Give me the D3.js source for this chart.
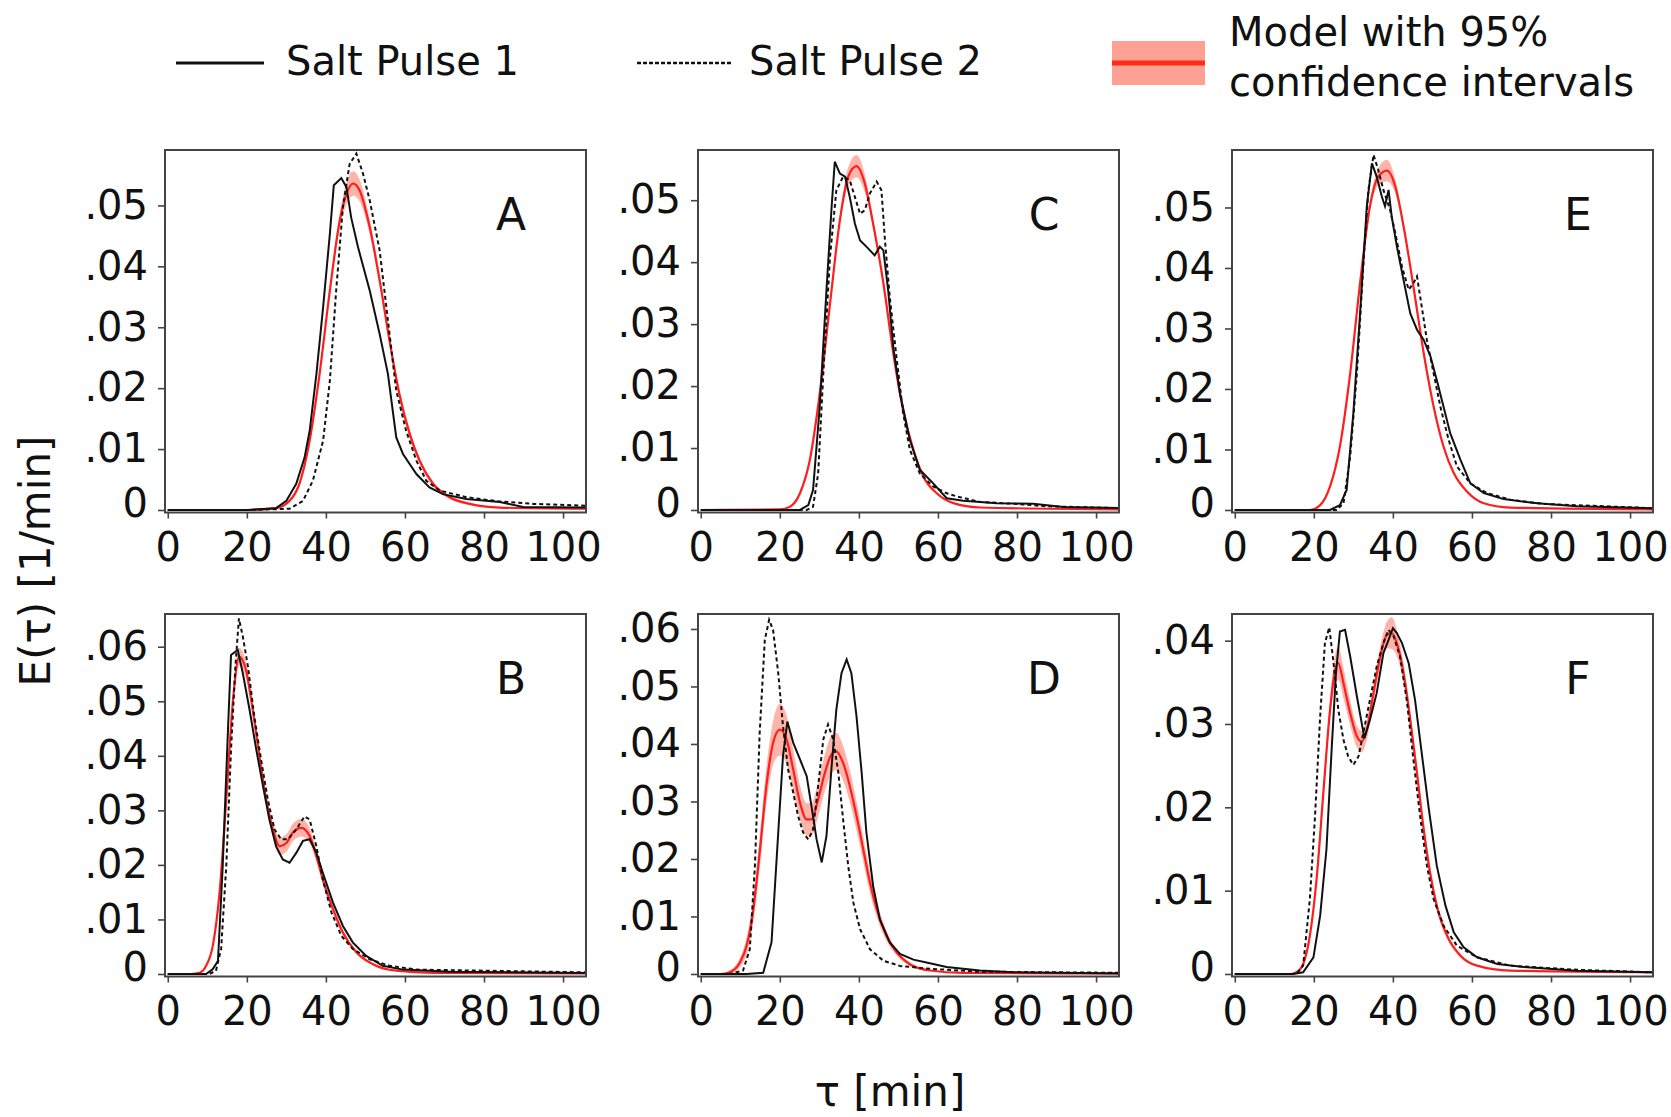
<!DOCTYPE html>
<html><head><meta charset="utf-8">
<script src="https://cdn.jsdelivr.net/npm/d3@7"></script>
<style>body{margin:0;background:#fff;}svg{display:block;}</style>
</head><body>
<svg id="chart" width="1671" height="1117"></svg>
<script>
// ---------- DATA ----------
const xTicks = [0, 20, 40, 60, 80, 100];
const panelLetters = ["A", "B", "C", "D", "E", "F"];
const yTickMax = [0.05, 0.06, 0.05, 0.06, 0.05, 0.04];
const legendLabels = ["Salt Pulse 1", "Salt Pulse 2", "Model with 95%", "confidence intervals"];

// Panel A
const tA1 = [0,20,27.4,30,32.5,34.6,35.9,37.6,39.3,41,42,43.9,45.2,46.4,48.1,51.1,53.6,55.7,57.8,59.5,62.9,66.2,69.6,75.5,84,89.9,105.8];
const eA1 = [0,0,.0003,.0015,.0043,.0086,.013,.0223,.0333,.0453,.0533,.0545,.053,.048,.0432,.036,.0289,.0223,.0119,.0092,.0059,.0037,.0026,.0018,.0013,.0005,.0004];
const tA2 = [0,20,30.8,34.2,36.7,39.3,41,42.6,44.3,46,47.7,49.4,51.1,53.6,56.1,57.8,60.3,62.9,65.4,68.8,75.5,84,92.4,105.8];
const eA2 = [0,0,.0002,.0015,.0048,.0114,.0212,.036,.0497,.0568,.0585,.0552,.0508,.0426,.0289,.0196,.013,.0081,.0048,.0032,.0021,.0014,.001,.0007];
const tAm = [0,20,27.4,30.8,33.3,35.9,38.4,41,43.5,45.2,46.9,48.5,51.1,53.6,56.1,58.6,61.2,63.7,67.1,71.3,76.4,84,105.8];
const eAm = [0,0,.0003,.0015,.0043,.0114,.0223,.036,.0475,.0519,.0536,.0525,.0464,.0377,.0278,.019,.0125,.0081,.0043,.0021,.001,.0004,.0002];
const cAm = [0,0,.0001,.0003,.0004,.0006,.0007,.0008,.0012,.0018,.002,.0018,.0012,.0009,.0008,.0008,.0007,.0006,.0004,.0003,.0002,.0001,.0001];

// Panel B
const tB1 = [0,9.7,11.4,12.7,13.9,15.2,16,17.7,19,20.7,22.4,24.1,25.7,27.4,29.1,30.8,32.5,34.2,35.9,37.6,39.2,41.8,44.3,46.8,50.2,54.4,59.5,71.3,105.8];
const eB1 = [0,0,.0009,.0024,.0198,.0442,.0585,.0594,.0551,.0484,.0411,.0344,.0283,.0234,.021,.0204,.0222,.0244,.0247,.0222,.0186,.0131,.0088,.0058,.0033,.0015,.0008,.0004,.0002];
const tB2 = [0,10.5,12.2,13.5,14.8,16,17.1,18,19,20.3,21.9,23.6,25.3,27,28.7,30.4,32.5,34.6,35.9,37.6,39.2,41.4,43.9,46.8,51.1,56.1,62.9,105.8];
const eB2 = [0,0,.0006,.0046,.0198,.0411,.0563,.0652,.0618,.0563,.0472,.0393,.032,.0265,.0247,.0247,.0265,.0289,.0283,.0234,.0174,.0113,.007,.0046,.0027,.0015,.0008,.0003];
const tBm = [0,6,8,9.7,11.4,13.1,14.8,16.5,18.1,19.8,21.5,23.2,24.9,26.6,28.3,30,31.6,33.8,35.9,37.6,39.2,41.8,44.3,47.7,51.9,57.8,67.1,105.8];
const eBm = [0,0,.0002,.0015,.0052,.0149,.032,.0502,.0582,.0557,.0484,.0399,.032,.0265,.0234,.024,.0259,.0268,.0253,.0216,.0174,.0119,.0076,.004,.0018,.0006,.0002,.0001];
const cBm = [0,0,.0001,.0002,.0004,.0006,.0008,.001,.0016,.0014,.001,.0008,.0008,.0012,.0016,.0016,.0016,.0016,.0014,.001,.0008,.0006,.0005,.0003,.0002,.0001,0,0];

// Panel C
const tC1 = [0,25.1,27.2,28.4,30.1,31.8,33.1,33.9,35.2,36.5,37.7,39,40.3,41.9,44,45.3,46.2,47.4,48.7,50.4,52.9,55.4,58.8,62.2,66.4,74.9,84.1,91.7,105.8];
const eC1 = [0,0,.0008,.0032,.0167,.0355,.0489,.0562,.0543,.0538,.0505,.0462,.0435,.0425,.0411,.0425,.0419,.0355,.0263,.0188,.0113,.0065,.0043,.0019,.0015,.0011,.001,.0005,.0003];
const tC2 = [0,26.8,28.4,29.7,31,32.7,34.3,36,37.7,39,40.3,41.5,42.8,44.5,45.7,46.6,47.8,49.5,51.2,52.9,55.4,58.8,62.2,64.7,70.6,79.1,87.5,105.8];
const eC2 = [0,0,.0005,.0059,.022,.0409,.0516,.0538,.0532,.0505,.0478,.0484,.0511,.053,.0516,.0435,.0344,.0247,.0156,.0097,.0059,.0038,.0027,.0022,.0013,.001,.0006,.0003];
const tCm = [0,20,22.5,25.1,27.6,30.1,32.7,35.2,37.3,39.4,41.5,43.6,46.2,48.7,51.2,53.8,56.3,59.7,63.9,70.6,105.8];
const eCm = [0,.0001,.0005,.0027,.0081,.0188,.0333,.0468,.0538,.0555,.0527,.0462,.0366,.0253,.0161,.0097,.0054,.0027,.0011,.0004,.0001];
const cCm = [0,0,.0001,.0002,.0003,.0004,.0005,.0008,.0015,.0018,.0015,.0008,.0006,.0006,.0005,.0004,.0003,.0002,.0001,.0001,0];

// Panel D
const tD1 = [0,11.6,15.8,17.9,19.6,20.8,21.9,23.4,25.1,26.8,28,29.3,30.6,31.8,33.1,34.3,35.6,36.9,38.1,39.4,40.7,41.9,43.6,45.3,47.8,50.4,53.8,57.1,62.2,70.6,79.1,105.8];
const eD1 = [0,0,.0002,.0055,.0246,.0379,.0439,.0402,.0373,.0344,.0292,.0234,.0194,.024,.0361,.046,.0523,.0547,.0523,.0448,.035,.0246,.0153,.0095,.0055,.0035,.0025,.002,.0012,.0006,.0003,.0001];
const tD2 = [0,7.3,10.7,12.4,13.7,14.9,16.2,17.3,18.3,19.6,20.8,22.1,23.4,24.6,25.9,27.2,28.4,29.7,31,32.2,33.5,34.8,36,37.3,38.6,40.3,42.8,46.2,50.4,58,70.6,105.8];
const eD2 = [0,0,.0006,.0043,.0188,.0419,.0581,.0616,.0598,.0523,.0431,.0355,.0315,.0275,.0246,.0234,.0251,.0327,.0408,.0434,.0408,.035,.0269,.0188,.0124,.0078,.0043,.0023,.0014,.0009,.0004,.0002];
const tDm = [0,5,7.3,9.9,11.6,13.2,14.9,16.6,18.3,20,21.7,23.4,25.1,26.8,28,29.7,31.4,33.1,34.3,36,37.7,39.4,41.1,42.8,44.5,47,49.5,52.9,58,66.4,105.8];
const eDm = [0,0,.0003,.002,.0049,.0107,.0211,.0327,.0402,.0425,.0408,.0355,.0298,.0269,.0269,.0304,.035,.0382,.0387,.0367,.0327,.0275,.0217,.0159,.0113,.0066,.0038,.0017,.0006,.0002,.0001];
const cDm = [0,0,.0003,.0008,.0015,.0022,.0028,.0032,.0038,.0045,.0042,.0035,.003,.0028,.0028,.003,.0032,.0033,.0032,.003,.0028,.0025,.0022,.0018,.0014,.0009,.0005,.0003,.0001,0,0];

// Panel E
const tE1 = [0,24.1,26.6,28.3,30,31.7,33.4,34.7,35.9,37.2,38,38.9,39.7,41,42.7,44.4,46.1,47.8,49.5,51.1,52.8,54.5,57.1,59.6,63,68,76.5,86.6,105.8];
const eE1 = [0,0,.0008,.0033,.016,.0325,.0502,.0573,.0551,.0518,.0502,.0529,.0485,.0436,.038,.0325,.0298,.0281,.0254,.0215,.0171,.0127,.0083,.0044,.0028,.0018,.0011,.0006,.0003];
const tE2 = [0,25.8,27.5,29.2,30.9,32.5,33.8,35.1,36.3,37.6,39.3,40.6,42.3,44,45.2,46.1,47.3,48.6,50.3,52,54.1,56.2,59.6,63.8,69.7,78.2,105.8];
const eE2 = [0,0,.0011,.0088,.0226,.0402,.0529,.0587,.0562,.0529,.0496,.0458,.0402,.0364,.0375,.0386,.0336,.0281,.0226,.0171,.0116,.0072,.0044,.0028,.0017,.001,.0003];
const tEm = [0,19,21.6,24.1,26.6,29.2,31.7,34.2,36.3,38.5,40.6,42.7,45.2,47.8,50.3,52.8,55.4,58.8,63,69.7,105.8];
const eEm = [0,0,.0008,.0039,.0105,.0226,.0375,.0502,.0551,.0561,.0535,.0469,.0369,.0259,.0171,.0105,.0061,.003,.0011,.0004,.0001];
const cEm = [0,0,.0001,.0002,.0003,.0004,.0005,.0008,.0014,.0018,.0012,.0007,.0005,.0005,.0004,.0003,.0002,.0002,.0001,0,0];

// Panel F
const tF1 = [0,14.8,17.3,19.9,21.6,23.2,24.5,25.6,26.6,27.9,29.2,30.9,32.8,34.2,35.9,37.6,38.9,40,41,42.3,44,45.6,47.3,49,51.1,53.3,55.4,57.9,61.3,66.4,74,86.6,105.8];
const eF1 = [0,0,.0002,.002,.007,.015,.0269,.0361,.0411,.0413,.0381,.0333,.0283,.0305,.0337,.0385,.0401,.0415,.0409,.0397,.0373,.0329,.0265,.0201,.013,.0082,.005,.0032,.002,.0012,.0008,.0004,.0002];
const tF2 = [0,15.6,17.3,19,20.3,21.6,22.8,23.9,24.9,26.2,27.5,28.7,30,31.3,32.5,34.2,35.9,37.6,38.9,40.2,41.8,43.5,45.2,46.9,48.6,50.3,52.8,56.2,61.3,69.7,86.6,105.8];
const eF2 = [0,0,.001,.009,.0189,.0309,.0397,.0416,.0377,.0317,.0281,.0261,.0251,.0261,.0289,.0329,.0369,.0397,.0413,.0405,.0381,.0329,.0257,.0189,.013,.009,.0058,.0034,.002,.001,.0005,.0002];
const tFm = [0,14,15.6,17.3,19,20.7,22.4,24.1,25.4,26.2,27.5,29.2,30.9,32.1,33.4,35.1,36.8,38.5,39.7,41,42.7,44.4,46.1,47.7,49.4,51.1,53.7,57.1,61.3,69.7,105.8];
const eFm = [0,0,.0002,.0012,.0046,.0114,.0217,.0317,.0365,.0373,.0349,.0313,.0285,.0279,.0293,.0337,.0381,.0407,.0409,.0397,.0361,.0305,.0241,.0177,.0122,.0082,.0046,.0022,.001,.0004,.0002];
const cFm = [0,0,.0001,.0003,.0005,.0007,.0009,.0012,.0018,.002,.0018,.0015,.0013,.0013,.0012,.0011,.0012,.0016,.0019,.0016,.0012,.001,.0009,.0008,.0007,.0006,.0004,.0002,.0001,0,0];

const pulse1 = [[tA1,eA1],[tB1,eB1],[tC1,eC1],[tD1,eD1],[tE1,eE1],[tF1,eF1]];
const pulse2 = [[tA2,eA2],[tB2,eB2],[tC2,eC2],[tD2,eD2],[tE2,eE2],[tF2,eF2]];
const model  = [[tAm,eAm,cAm],[tBm,eBm,cBm],[tCm,eCm,cCm],[tDm,eDm,cDm],[tEm,eEm,cEm],[tFm,eFm,cFm]];

// ---------- LAYOUT ----------
const FONT = "'DejaVu Sans', sans-serif";
const colLeft = [165, 698, 1232];
const rowTop = [150, 614];
const pw = 421, ph = 362.5;
const yTopVal = [0.0591, 0.066, 0.0581, 0.0626, 0.0595, 0.0432];
const RED = "#ff1e1e", BAND = "#ff8070";

const svg = d3.select("#chart");
const fmt = v => v === 0 ? "0" : d3.format(".2f")(v).replace(/^0/, "");

panelLetters.forEach((letter, i) => {
  const col = Math.floor(i / 2), row = i % 2;
  const x0 = colLeft[col], y0 = rowTop[row];
  const yTop = yTopVal[i];
  const x = d3.scaleLinear().domain([-0.7, 105.8]).range([0, pw]);
  const y = d3.scaleLinear().domain([-0.007 * yTop, yTop]).range([ph, 0]);
  const g = svg.append("g").attr("transform", `translate(${x0},${y0})`);

  const clipId = "clip" + letter;
  g.append("clipPath").attr("id", clipId).append("rect").attr("width", pw).attr("height", ph);
  const plot = g.append("g").attr("clip-path", `url(#${clipId})`);

  // model band + line
  const [tm, em, cm] = model[i];
  const md = tm.map((t, k) => ({t, e: em[k], c: cm[k]}));
  plot.append("path").datum(md)
    .attr("d", d3.area().curve(d3.curveMonotoneX).x(d => x(d.t)).y0(d => y(d.e - d.c)).y1(d => y(d.e + d.c)))
    .attr("fill", BAND).attr("fill-opacity", 0.6);
  plot.append("path").datum(md)
    .attr("d", d3.line().curve(d3.curveMonotoneX).x(d => x(d.t)).y(d => y(d.e)))
    .attr("fill", "none").attr("stroke", RED).attr("stroke-width", 2.2);

  const line = d3.line().x(d => x(d[0])).y(d => y(d[1]));
  const [t2, e2] = pulse2[i];
  plot.append("path").datum(t2.map((t, k) => [t, e2[k]]))
    .attr("d", line).attr("fill", "none").attr("stroke", "#111")
    .attr("stroke-width", 2).attr("stroke-dasharray", "4,3");
  const [t1, e1] = pulse1[i];
  plot.append("path").datum(t1.map((t, k) => [t, e1[k]]))
    .attr("d", line).attr("fill", "none").attr("stroke", "#111").attr("stroke-width", 2);

  // frame
  g.append("rect").attr("width", pw).attr("height", ph)
    .attr("fill", "none").attr("stroke", "#444").attr("stroke-width", 2);

  // axes
  const xa = g.append("g").attr("transform", `translate(0,${ph})`)
    .call(d3.axisBottom(x).tickValues(xTicks).tickSize(6).tickPadding(14));
  const yTicks = d3.range(0, yTickMax[i] + 1e-9, 0.01);
  const ya = g.append("g")
    .call(d3.axisLeft(y).tickValues(yTicks).tickFormat(fmt).tickSize(7).tickPadding(10));
  [xa, ya].forEach(a => {
    a.select(".domain").remove();
    a.selectAll(".tick line").attr("stroke", "#444").attr("stroke-width", 1.6);
    a.selectAll("text").attr("font-family", FONT).attr("font-size", 40).attr("fill", "#111");
  });
  ya.selectAll(".tick text").filter(d => d === 0).attr("y", -6);

  g.append("text").attr("x", pw - 75).attr("y", 80).attr("text-anchor", "middle")
    .attr("font-family", FONT).attr("font-size", 44).attr("fill", "#111").text(letter);
});

// axis titles
svg.append("text").attr("transform", "translate(50,561) rotate(-90)")
  .attr("text-anchor", "middle").attr("font-family", FONT).attr("font-size", 42)
  .attr("fill", "#111").text("E(τ) [1/min]");
svg.append("text").attr("x", 890).attr("y", 1106)
  .attr("text-anchor", "middle").attr("font-family", FONT).attr("font-size", 42)
  .attr("fill", "#111").text("τ [min]");

// legend
const lg = svg.append("g");
lg.append("line").attr("x1", 176).attr("x2", 264).attr("y1", 63).attr("y2", 63)
  .attr("stroke", "#111").attr("stroke-width", 3);
lg.append("text").attr("x", 286).attr("y", 75).attr("font-family", FONT).attr("font-size", 40)
  .attr("fill", "#111").text(legendLabels[0]);
lg.append("line").attr("x1", 637).attr("x2", 731).attr("y1", 63).attr("y2", 63)
  .attr("stroke", "#111").attr("stroke-width", 2.4).attr("stroke-dasharray", "4,2");
lg.append("text").attr("x", 749).attr("y", 75).attr("font-family", FONT).attr("font-size", 40)
  .attr("fill", "#111").text(legendLabels[1]);
lg.append("rect").attr("x", 1112).attr("y", 41).attr("width", 93).attr("height", 44)
  .attr("fill", "#ffa094");
lg.append("line").attr("x1", 1112).attr("x2", 1205).attr("y1", 63).attr("y2", 63)
  .attr("stroke", "#ff2a18").attr("stroke-width", 5);
lg.append("text").attr("x", 1229).attr("y", 46).attr("font-family", FONT).attr("font-size", 40)
  .attr("fill", "#111").text(legendLabels[2]);
lg.append("text").attr("x", 1229).attr("y", 96).attr("font-family", FONT).attr("font-size", 40)
  .attr("fill", "#111").text(legendLabels[3]);
</script>
</body></html>
